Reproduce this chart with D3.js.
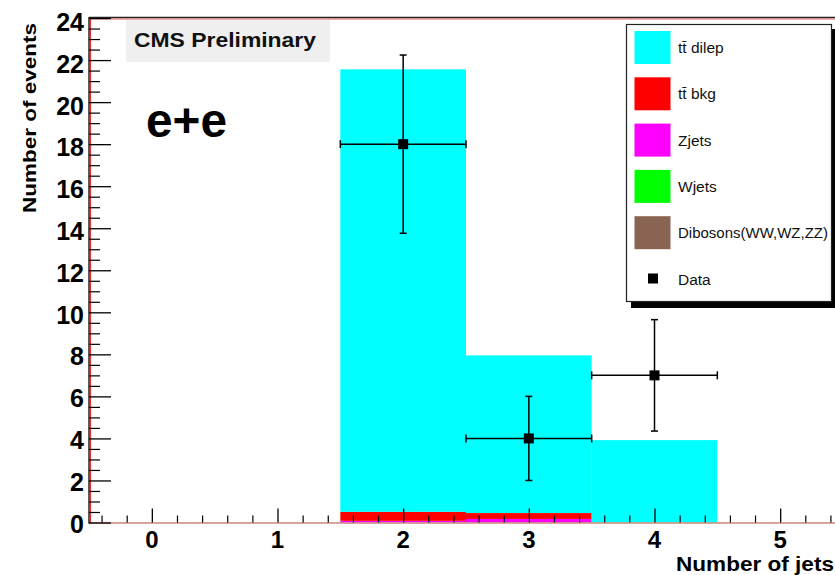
<!DOCTYPE html>
<html>
<head>
<meta charset="utf-8">
<script src="https://cdn.jsdelivr.net/npm/d3@7"></script>
<style>
  html, body { margin: 0; padding: 0; background: #fff; }
  svg { display: block; }
  text { font-family: "Liberation Sans", Arial, Helvetica, sans-serif; }
</style>
</head>
<body>
<script>
// Jet-multiplicity histogram, e+e channel
const binCenters = [2, 3, 4];
const zjets   = [0.08, 0.17, 0.0];
const ttbkg   = [0.43, 0.28, 0.0];
const ttdilep = [21.05, 7.50, 3.92];
const dataVals = [18, 4, 7];
const dataLo   = [13.76, 2.0, 4.35];
const dataHi   = [22.24, 6.0, 9.65];
const xTicks = [0, 1, 2, 3, 4, 5];
const yTicks = [0, 2, 4, 6, 8, 10, 12, 14, 16, 18, 20, 22, 24];
const legendNames = ["t\u0074\u0304 dilep", "t\u0074\u0304 bkg", "Zjets", "Wjets", "Dibosons(WW,WZ,ZZ)", "Data"];
const legendColors = ["#00ffff", "#ff0000", "#ff00ff", "#00ff00", "#8a6452", null];

const W = 835, H = 575;
const svg = d3.select("body").append("svg").attr("width", W).attr("height", H);

const x = d3.scaleLinear().domain([-0.5, 5.5]).range([89, 843]);
const y = d3.scaleLinear().domain([0, 24.04]).range([522.5, 17.2]);

// Stacked components, bottom to top
const layers = [
  { vals: zjets, color: "#ff00ff" },
  { vals: ttbkg, color: "#ff0000" },
  { vals: ttdilep, color: "#00ffff" }
];
const base = binCenters.map(() => 0);
const plot = svg.append("g");
layers.forEach(layer => {
  binCenters.forEach((c, i) => {
    const v0 = base[i], v1 = base[i] + layer.vals[i];
    base[i] = v1;
    if (layer.vals[i] <= 0) return;
    plot.append("rect")
      .attr("x", x(c - 0.5)).attr("width", x(c + 0.5) - x(c - 0.5))
      .attr("y", y(v1)).attr("height", y(v0) - y(v1))
      .attr("fill", layer.color);
  });
});

// Frame lines
svg.append("line").attr("x1", 89).attr("x2", W).attr("y1", y(0) + 0.5).attr("y2", y(0) + 0.5)
  .attr("stroke", "#c8877a").attr("stroke-width", 1.5);
svg.append("line").attr("x1", 89).attr("x2", W).attr("y1", 17.5).attr("y2", 17.5)
  .attr("stroke", "#222").attr("stroke-width", 1.5);
svg.append("line").attr("x1", 89).attr("x2", W).attr("y1", 19).attr("y2", 19)
  .attr("stroke", "#e06060").attr("stroke-width", 1);
svg.append("line").attr("x1", 89).attr("x2", 89).attr("y1", 17).attr("y2", y(0) + 1)
  .attr("stroke", "#222").attr("stroke-width", 1.5);
svg.append("line").attr("x1", 90.5).attr("x2", 90.5).attr("y1", 18).attr("y2", y(0))
  .attr("stroke", "#e03030").attr("stroke-width", 1.2);

// Y axis ticks (inward)
svg.append("g").attr("transform", "translate(89,0)")
  .call(d3.axisRight(y).tickValues(yTicks).tickSize(22).tickFormat(""))
  .call(g => g.select(".domain").remove())
  .call(g => g.selectAll("line").attr("stroke", "#000").attr("stroke-width", 1.3));
const yMinor = d3.range(0.5, 24.01, 0.5).filter(v => v % 2 !== 0);
svg.append("g").attr("transform", "translate(89,0)")
  .call(d3.axisRight(y).tickValues(yMinor).tickSize(11).tickFormat(""))
  .call(g => g.select(".domain").remove())
  .call(g => g.selectAll("line").attr("stroke", "#000").attr("stroke-width", 1.2));
svg.append("g").selectAll("text").data(yTicks).join("text")
  .attr("x", 84).attr("y", d => y(d) + 10 + d * 0.12)
  .attr("text-anchor", "end").attr("font-size", 25).attr("font-weight", "bold")
  .text(d => d);

// X axis ticks (upward)
svg.append("g").attr("transform", `translate(0,${y(0)})`)
  .call(d3.axisTop(x).tickValues(xTicks).tickSize(14).tickFormat(""))
  .call(g => g.select(".domain").remove())
  .call(g => g.selectAll("line").attr("stroke", "#000").attr("stroke-width", 1.3));
const xMinor = d3.range(-0.4, 5.45, 0.2).filter(v => Math.abs(v - Math.round(v)) > 0.01);
svg.append("g").attr("transform", `translate(0,${y(0)})`)
  .call(d3.axisTop(x).tickValues(xMinor).tickSize(7).tickFormat(""))
  .call(g => g.select(".domain").remove())
  .call(g => g.selectAll("line").attr("stroke", "#000").attr("stroke-width", 1.2));
svg.append("g").selectAll("text").data(xTicks).join("text")
  .attr("x", d => x(d)).attr("y", 547.5)
  .attr("text-anchor", "middle").attr("font-size", 24).attr("font-weight", "bold")
  .text(d => d);

// Axis titles
svg.append("text").attr("x", 676).attr("y", 570.5)
  .attr("font-size", 19.5).attr("font-weight", "bold")
  .attr("textLength", 158).attr("lengthAdjust", "spacingAndGlyphs")
  .text("Number of jets");
svg.append("text").attr("transform", "translate(36,213) rotate(-90)")
  .attr("font-size", 19).attr("font-weight", "bold")
  .attr("textLength", 190).attr("lengthAdjust", "spacingAndGlyphs")
  .text("Number of events");

// Data points with error bars
const pts = svg.append("g");
binCenters.forEach((c, i) => {
  const cx = x(c);
  pts.append("line").attr("x1", x(c - 0.5)).attr("x2", x(c + 0.5)).attr("y1", y(dataVals[i])).attr("y2", y(dataVals[i]))
    .attr("stroke", "#000").attr("stroke-width", 1.5);
  pts.append("line").attr("x1", cx).attr("x2", cx).attr("y1", y(dataLo[i])).attr("y2", y(dataHi[i]))
    .attr("stroke", "#000").attr("stroke-width", 1.5);
  [dataLo[i], dataHi[i]].forEach(v => {
    pts.append("line").attr("x1", cx - 3.5).attr("x2", cx + 3.5).attr("y1", y(v)).attr("y2", y(v))
      .attr("stroke", "#000").attr("stroke-width", 1.5);
  });
  [x(c - 0.5), x(c + 0.5)].forEach(xe => {
    pts.append("line").attr("x1", xe).attr("x2", xe).attr("y1", y(dataVals[i]) - 4).attr("y2", y(dataVals[i]) + 4)
      .attr("stroke", "#000").attr("stroke-width", 1.5);
  });
  pts.append("rect").attr("x", cx - 5).attr("y", y(dataVals[i]) - 5).attr("width", 10).attr("height", 10).attr("fill", "#000");
});

// CMS Preliminary label
svg.append("rect").attr("x", 126).attr("y", 20).attr("width", 204).attr("height", 42).attr("fill", "#efefef");
svg.append("text").attr("x", 134).attr("y", 47).attr("font-size", 21).attr("font-weight", "bold")
  .attr("textLength", 182).attr("lengthAdjust", "spacingAndGlyphs")
  .attr("fill", "#111").text("CMS Preliminary");

// Channel label
svg.append("text").attr("x", 146).attr("y", 137).attr("font-size", 48).attr("font-weight", "bold")
  .attr("textLength", 81).attr("lengthAdjust", "spacingAndGlyphs").text("e+e");

// Legend
const lg = svg.append("g");
lg.append("rect").attr("x", 631).attr("y", 29).attr("width", 206).attr("height", 279).attr("fill", "#000");
lg.append("rect").attr("x", 626.5).attr("y", 24.5).attr("width", 205).attr("height", 277)
  .attr("fill", "#fff").attr("stroke", "#222").attr("stroke-width", 1.2);
legendNames.forEach((name, i) => {
  const cy = 47 + i * 46.3;
  if (legendColors[i]) {
    lg.append("rect").attr("x", 634.5).attr("y", cy - 16).attr("width", 36).attr("height", 33)
      .attr("fill", legendColors[i]);
  } else {
    lg.append("rect").attr("x", 648).attr("y", cy - 5).attr("width", 10).attr("height", 10).attr("fill", "#000");
  }
  const t = lg.append("text").attr("x", 678).attr("y", cy + 6).attr("font-size", 15.5).attr("fill", "#111").text(name);
  if (t.node().getComputedTextLength() > 150) {
    t.attr("textLength", 150).attr("lengthAdjust", "spacingAndGlyphs");
  }
});
</script>
</body>
</html>
